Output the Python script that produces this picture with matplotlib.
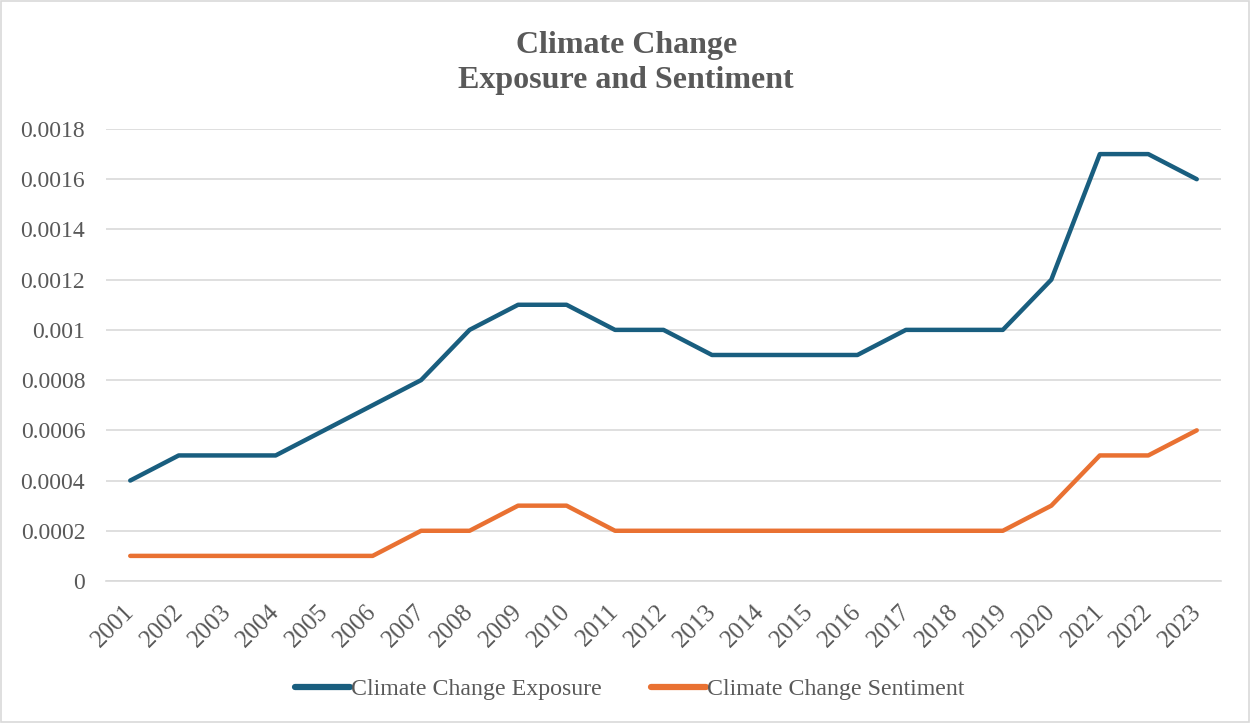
import matplotlib.pyplot as plt
from matplotlib.patches import Rectangle
from matplotlib.transforms import ScaledTranslation

years = [str(y) for y in range(2001, 2024)]
exposure = [0.0004, 0.0005, 0.0005, 0.0005, 0.0006, 0.0007, 0.0008, 0.0010,
            0.0011, 0.0011, 0.0010, 0.0010, 0.0009, 0.0009, 0.0009, 0.0009,
            0.0010, 0.0010, 0.0010, 0.0012, 0.0017, 0.0017, 0.0016]
sentiment = [0.0001, 0.0001, 0.0001, 0.0001, 0.0001, 0.0001, 0.0002, 0.0002,
             0.0003, 0.0003, 0.0002, 0.0002, 0.0002, 0.0002, 0.0002, 0.0002,
             0.0002, 0.0002, 0.0002, 0.0003, 0.0005, 0.0005, 0.0006]
yticks = [0, 0.0002, 0.0004, 0.0006, 0.0008, 0.001, 0.0012, 0.0014, 0.0016, 0.0018]
ytick_labels = ['0', '0.0002', '0.0004', '0.0006', '0.0008', '0.001',
                '0.0012', '0.0014', '0.0016', '0.0018']

plt.rcParams['font.family'] = ['Liberation Serif', 'DejaVu Serif']
txt = '#595959'

fig = plt.figure(figsize=(12.5, 7.23), dpi=100)
ax = fig.add_axes([0.0848, 0.1964, 0.892, 0.6252])

x = list(range(len(years)))
ax.plot(x, exposure, color='#195E7F', lw=3.2, label='Climate Change Exposure',
        solid_joinstyle='round', solid_capstyle='round')
ax.plot(x, sentiment, color='#E97132', lw=3.2, label='Climate Change Sentiment',
        solid_joinstyle='round', solid_capstyle='round')

ax.set_xlim(-0.5, len(years) - 0.5)
ax.set_ylim(0, 0.0018)
ax.set_yticks(yticks)
ax.set_yticklabels(ytick_labels, fontsize=17, color=txt)
ax.set_xticks(x)
ax.set_xticklabels(years, fontsize=18, color=txt, rotation=45,
                   ha='right', va='top', rotation_mode='anchor')
ax.tick_params(axis='both', length=0)
ax.tick_params(axis='y', pad=15)
ax.tick_params(axis='x', pad=7)
# nudge the rotated year labels to sit like Excel's
shift = ScaledTranslation(-7 / 100, -10 / 100, fig.dpi_scale_trans)
for lab in ax.get_xticklabels():
    lab.set_transform(lab.get_transform() + shift)
ax.grid(axis='y', color='#D9D9D9', lw=1.2)
ax.set_axisbelow(True)
for s in ['top', 'right', 'left']:
    ax.spines[s].set_visible(False)
ax.spines['bottom'].set_color('#D9D9D9')
ax.spines['bottom'].set_linewidth(1.2)

fig.text(0.501, 0.913, 'Climate Change\nExposure and Sentiment', ha='center',
         va='center', fontsize=23, fontweight='bold', color=txt, linespacing=1.3)

leg = fig.legend(loc='center', bbox_to_anchor=(0.504, 0.047), ncol=2, frameon=False,
                 fontsize=17.2, labelcolor=txt, handlelength=2.3, handletextpad=0.05,
                 columnspacing=2.05)
for h in leg.get_lines():
    h.set_linewidth(4.5)

fig.patches.append(Rectangle((0.001, 0.001), 0.998, 0.998, transform=fig.transFigure,
                             fill=False, edgecolor='#D9D9D9', lw=1.2))

fig.savefig('out.png', dpi=100, facecolor='white')
